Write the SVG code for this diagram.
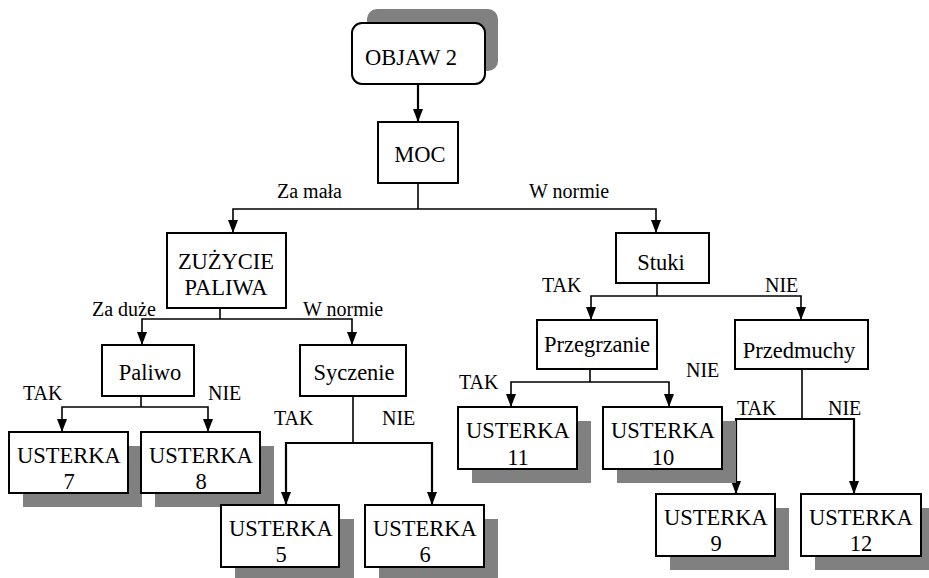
<svg xmlns="http://www.w3.org/2000/svg" width="929" height="578" viewBox="0 0 929 578">
  <defs>
    <style>
      .box { fill: #ffffff; stroke: #000000; stroke-width: 2; }
      .shadow { fill: #808080; stroke: none; }
      .t { font-family: 'Liberation Serif', 'Times New Roman', 'DejaVu Serif', serif; font-size: 22.5px; fill: #000000; text-anchor: middle; }
      .lbl { font-family: 'Liberation Serif', 'Times New Roman', 'DejaVu Serif', serif; font-size: 20px; fill: #000000; }
      .wire { fill: none; stroke: #000000; stroke-width: 1.6; }
      .wire.bold { stroke-width: 2.2; }
    </style>
    <marker id="arrow" markerUnits="userSpaceOnUse" markerWidth="13" markerHeight="10" refX="13" refY="5" orient="auto">
      <path d="M0,0 L13,5 L0,10 z" fill="#000000"/>
    </marker>
  </defs>

  <rect width="929" height="578" fill="#ffffff"/>

  <!-- connectors -->
  <g id="connectors">
    <path class="wire bold" d="M418,84 V122" marker-end="url(#arrow)"/>
    <path class="wire" d="M418,183 V209"/>
    <path class="wire" d="M418,209 H233 V233" marker-end="url(#arrow)"/>
    <path class="wire" d="M418,209 H656 V233" marker-end="url(#arrow)"/>

    <path class="wire" d="M220,308 V319"/>
    <path class="wire" d="M220,319 H142 V345" marker-end="url(#arrow)"/>
    <path class="wire" d="M220,319 H352 V345" marker-end="url(#arrow)"/>

    <path class="wire" d="M141,396 V407"/>
    <path class="wire" d="M141,407 H62 V432" marker-end="url(#arrow)"/>
    <path class="wire" d="M141,407 H208 V432" marker-end="url(#arrow)"/>

    <path class="wire" d="M353,396 V443"/>
    <path class="wire bold" d="M353,443 H286 V505" marker-end="url(#arrow)"/>
    <path class="wire bold" d="M353,443 H432 V505" marker-end="url(#arrow)"/>

    <path class="wire" d="M657,283 V296"/>
    <path class="wire" d="M657,296 H591 V320" marker-end="url(#arrow)"/>
    <path class="wire" d="M657,296 H801 V320" marker-end="url(#arrow)"/>

    <path class="wire" d="M590,369 V382"/>
    <path class="wire" d="M590,382 H511 V407" marker-end="url(#arrow)"/>
    <path class="wire" d="M590,382 H669 V407" marker-end="url(#arrow)"/>

    <path class="wire" d="M802,369 V419"/>
    <path class="wire bold" d="M802,419 H736 V494" marker-end="url(#arrow)"/>
    <path class="wire bold" d="M802,419 H854 V494" marker-end="url(#arrow)"/>
  </g>

  <!-- branch labels -->
  <g id="labels">
    <text class="lbl" x="277" y="198">Za mała</text>
    <text class="lbl" x="529" y="198">W normie</text>
    <text class="lbl" x="92" y="316">Za duże</text>
    <text class="lbl" x="303" y="316">W normie</text>
    <text class="lbl" x="23" y="400">TAK</text>
    <text class="lbl" x="208" y="400">NIE</text>
    <text class="lbl" x="274" y="425">TAK</text>
    <text class="lbl" x="382" y="425">NIE</text>
    <text class="lbl" x="542" y="292">TAK</text>
    <text class="lbl" x="765" y="292">NIE</text>
    <text class="lbl" x="459" y="389">TAK</text>
    <text class="lbl" x="686" y="377">NIE</text>
    <text class="lbl" x="737" y="415">TAK</text>
    <text class="lbl" x="828" y="415">NIE</text>
  </g>

  <!-- nodes -->
  <g id="objaw2">
    <rect class="shadow" x="367" y="9" width="131" height="62" rx="10"/>
    <rect class="box" x="352" y="23" width="133" height="61" rx="10"/>
    <text class="t" x="411" y="65">OBJAW 2</text>
  </g>

  <g id="moc">
    <rect class="box" x="378" y="122" width="80" height="61"/>
    <text class="t" x="420" y="162">MOC</text>
  </g>

  <g id="zuzycie">
    <rect class="box" x="167" y="233" width="119" height="75"/>
    <text class="t" x="226" y="269">ZUŻYCIE</text>
    <text class="t" x="226" y="295">PALIWA</text>
  </g>

  <g id="paliwo">
    <rect class="box" x="102" y="345" width="92" height="51"/>
    <text class="t" x="150" y="380">Paliwo</text>
  </g>

  <g id="syczenie">
    <rect class="box" x="300" y="345" width="106" height="51"/>
    <text class="t" x="354" y="380">Syczenie</text>
  </g>

  <g id="stuki">
    <rect class="box" x="616" y="233" width="93" height="50"/>
    <text class="t" x="661" y="270">Stuki</text>
  </g>

  <g id="przegrzanie">
    <rect class="box" x="537" y="320" width="120" height="49"/>
    <text class="t" x="597" y="352">Przegrzanie</text>
  </g>

  <g id="przedmuchy">
    <rect class="box" x="735" y="320" width="133" height="49"/>
    <text class="t" x="799" y="358">Przedmuchy</text>
  </g>

  <g id="usterka7">
    <rect class="shadow" x="23" y="446" width="119" height="61"/>
    <rect class="box" x="9" y="432" width="119" height="61"/>
    <text class="t" x="69" y="463">USTERKA</text>
    <text class="t" x="69" y="489">7</text>
  </g>

  <g id="usterka8">
    <rect class="shadow" x="155" y="446" width="119" height="61"/>
    <rect class="box" x="141" y="432" width="119" height="61"/>
    <text class="t" x="201" y="463">USTERKA</text>
    <text class="t" x="201" y="489">8</text>
  </g>

  <g id="usterka5">
    <rect class="shadow" x="235" y="519" width="119" height="61"/>
    <rect class="box" x="221" y="505" width="118" height="62"/>
    <text class="t" x="281" y="536">USTERKA</text>
    <text class="t" x="281" y="562">5</text>
  </g>

  <g id="usterka6">
    <rect class="shadow" x="379" y="519" width="119" height="61"/>
    <rect class="box" x="365" y="505" width="119" height="62"/>
    <text class="t" x="425" y="536">USTERKA</text>
    <text class="t" x="425" y="562">6</text>
  </g>

  <g id="usterka11">
    <rect class="shadow" x="472" y="421" width="119" height="62"/>
    <rect class="box" x="458" y="407" width="119" height="62"/>
    <text class="t" x="518" y="438">USTERKA</text>
    <text class="t" x="518" y="465">11</text>
  </g>

  <g id="usterka10">
    <rect class="shadow" x="617" y="421" width="119" height="62"/>
    <rect class="box" x="603" y="407" width="119" height="62"/>
    <text class="t" x="663" y="438">USTERKA</text>
    <text class="t" x="663" y="465">10</text>
  </g>

  <g id="usterka9">
    <rect class="shadow" x="670" y="508" width="119" height="62"/>
    <rect class="box" x="656" y="494" width="119" height="62"/>
    <text class="t" x="716" y="525">USTERKA</text>
    <text class="t" x="716" y="551">9</text>
  </g>

  <g id="usterka12">
    <rect class="shadow" x="815" y="508" width="120" height="62"/>
    <rect class="box" x="801" y="494" width="120" height="62"/>
    <text class="t" x="861" y="525">USTERKA</text>
    <text class="t" x="861" y="551">12</text>
  </g>
</svg>
